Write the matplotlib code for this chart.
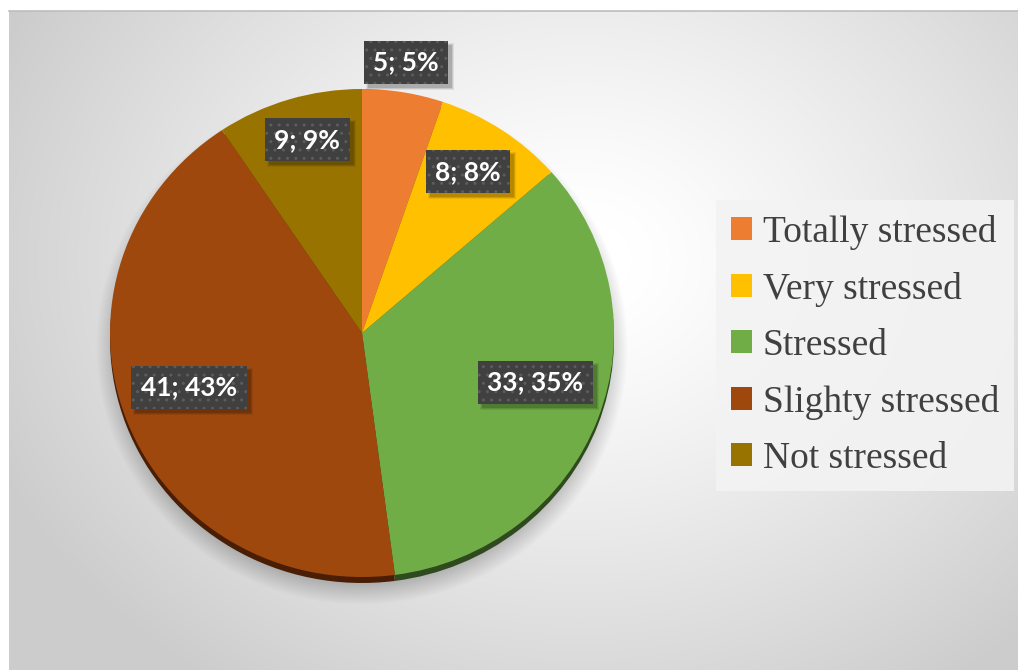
import numpy as np
import matplotlib
matplotlib.use("Agg")
import matplotlib.pyplot as plt
from matplotlib.patches import Patch, Rectangle
from matplotlib.transforms import IdentityTransform

# Survey answers: stress level of respondents
categories = ["Totally stressed", "Very stressed", "Stressed", "Slighty stressed", "Not stressed"]
counts = [5, 8, 33, 41, 9]
percents = [5, 8, 35, 43, 9]
colors = ["#ED7D31", "#FFC000", "#70AD47", "#9E480E", "#997300"]
rim_colors = ["#7a3e14", "#8a6800", "#2f4a1e", "#4a1e05", "#4d3a00"]
# data-label placement: fraction of the radius and angular nudge (deg) from the wedge middle
label_dist = [1.124, 0.783, 0.717, 0.722, 0.821]
label_nudge = [0.45, 1.25, 4.3, -2.6, -1.5]

W, H, DPI = 1018, 670, 100
fig = plt.figure(figsize=(W / DPI, H / DPI), dpi=DPI)
fig.patch.set_facecolor("white")

# pie geometry in pixels (from top-left corner)
cx, cy, rx, ry = 362.0, 333.0, 252.0, 244.0
rim = 6.0

# ---- chart-area background: radial gradient with soft pie shadow ----
x0, y0 = 9, 11
xs = np.arange(x0, W) + 0.5
ys = np.arange(y0, H) + 0.5
X, Y = np.meshgrid(xs, ys)
d = np.sqrt(((X - 580) / 640.0) ** 2 + ((Y - 260) / 520.0) ** 2)
t = np.clip((d - 0.08) / 0.92, 0, 1)
bg = 1.0 - 0.20 * t ** 1.2
rho = np.sqrt(((X - cx) / (rx + 4)) ** 2 + ((Y - (cy + 14)) / (ry + 4)) ** 2)
shadow = np.clip((1.04 - rho) / 0.09, 0, 1)
bg = bg * (1 - 0.22 * shadow)
img = np.dstack([bg, bg, bg])
bax = fig.add_axes([x0 / W, 0, 1 - x0 / W, (H - y0) / H])
bax.imshow(img, aspect="auto", interpolation="bilinear", extent=(0, 1, 0, 1))
bax.plot([0, 1], [1, 1], color="#bdbdbd", lw=1.2, transform=bax.transAxes, clip_on=False)
bax.set_axis_off()

# ---- pie axes: unit radius maps to rx / ry pixels ----
lim = 1.3
ax_w = 2 * lim * rx
ax_h = 2 * lim * ry
ax = fig.add_axes([(cx - ax_w / 2) / W, (H - cy - ax_h / 2) / H, ax_w / W, ax_h / H])
ax.set_zorder(2)

# darker rim under the top face for a slight 3-D look
ax.pie(counts, colors=rim_colors, startangle=90, counterclock=False,
       center=(0, -rim / ry), wedgeprops=dict(linewidth=0))
wedges, _ = ax.pie(counts, colors=colors, startangle=90, counterclock=False,
                   wedgeprops=dict(linewidth=0))
ax.set_aspect("auto")
ax.set_xlim(-lim, lim)
ax.set_ylim(-lim, lim)
ax.set_axis_off()

labels = []
for w, c, p, dist, nudge in zip(wedges, counts, percents, label_dist, label_nudge):
    ang = np.deg2rad((w.theta1 + w.theta2) / 2 + nudge)
    txt = ax.text(dist * np.cos(ang), dist * np.sin(ang), f"{c}; {p}%",
                  ha="center", va="center", color="white", fontsize=19,
                  fontweight="bold", family="Lato", zorder=5,
                  bbox=dict(boxstyle="square,pad=0.36", facecolor="#404040",
                            edgecolor="#5c5c5c", linewidth=0, hatch=".."))
    labels.append(txt)

# soft drop shadows behind the label boxes
fig.canvas.draw()
renderer = fig.canvas.get_renderer()
for txt in labels:
    bb = txt.get_bbox_patch().get_window_extent(renderer)
    for k, a in zip(range(3), [0.14, 0.10, 0.07]):
        ax.add_patch(Rectangle((bb.x0 + 4 - k, bb.y0 - 4 - k), bb.width + 2 * k, bb.height + 2 * k,
                               transform=IdentityTransform(), facecolor="black",
                               edgecolor="none", alpha=a, zorder=4))

# ---- legend ----
handles = [Patch(facecolor=c, edgecolor="none") for c in colors]
leg = fig.legend(handles, categories, loc="upper left",
                 bbox_to_anchor=(716 / W, 1 - 200 / H), borderaxespad=0,
                 prop=dict(family="Liberation Serif", size=27),
                 labelcolor="#404040", frameon=True, fancybox=False,
                 handlelength=0.55, handleheight=0.55, handletextpad=0.3,
                 labelspacing=0.58, borderpad=0.4)
leg.get_frame().set_facecolor("#f3f3f3")
leg.get_frame().set_edgecolor("none")
leg.get_frame().set_alpha(0.9)
leg.set_zorder(3)

fig.savefig("out.png", dpi=DPI)
